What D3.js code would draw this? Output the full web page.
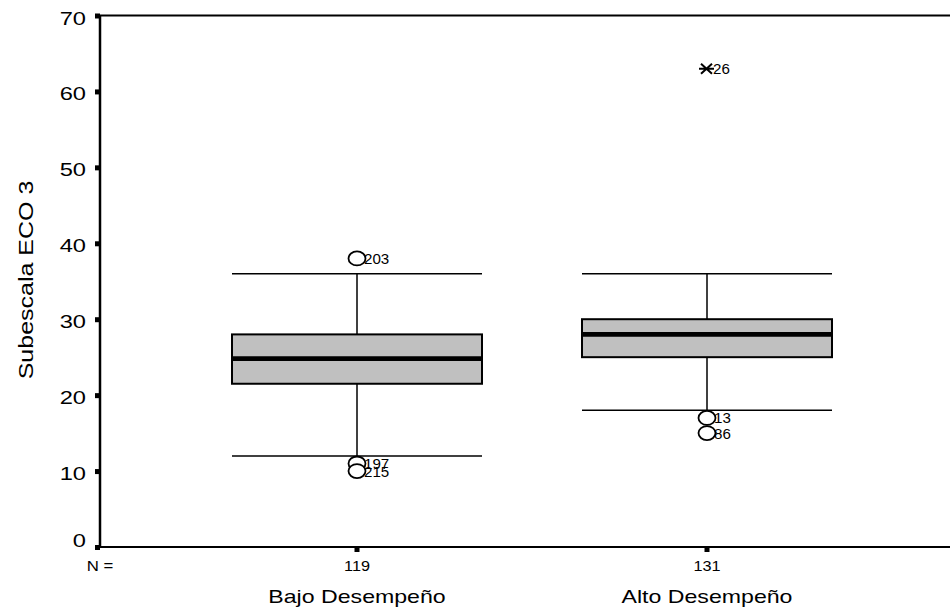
<!DOCTYPE html>
<html>
<head>
<meta charset="utf-8">
<script src="https://cdn.jsdelivr.net/npm/d3@7"></script>
<style>
  body { margin: 0; background: #fff; }
  svg { display: block; font-family: "Liberation Sans", Arial, sans-serif; }
</style>
</head>
<body>
<svg id="chart" width="950" height="610"></svg>
<script>
// Groups and their box-plot summaries
const categories = ["Bajo Desempeño", "Alto Desempeño"];
const counts = [119, 131];
const q1 = [21.5, 25];
const medians = [24.8, 28];
const q3 = [28, 30];
const whiskerLow = [12, 18];
const whiskerHigh = [36, 36];
// Outliers (circles) and extremes (asterisks): [group index, value, case id]
const outliers = [
  [0, 38, "203"], [0, 11, "197"], [0, 10, "215"],
  [1, 17, "13"], [1, 15, "86"]
];
const extremes = [[1, 63, "26"]];
const yTicks = [0, 10, 20, 30, 40, 50, 60, 70];

const svg = d3.select("#chart");
const plotLeft = 100, plotRight = 950, plotTop = 15.5, plotBottom = 547;

const x = d3.scaleBand().domain(categories).range([182, 882]).paddingInner(0);
const y = d3.scaleLinear().domain([0, 70]).range([plotBottom, plotTop]);
const boxW = x.bandwidth() * 250 / 350;
const cx = i => x(categories[i]) + x.bandwidth() / 2;

// Text drawn with a horizontal stretch (wide Arial look)
function label(parent, tx, ty, str, size, anchor, sx, rotate) {
  const tr = `translate(${tx},${ty})` + (rotate ? ` rotate(${rotate})` : "") + ` scale(${sx},1)`;
  return parent.append("text").attr("transform", tr).attr("text-anchor", anchor)
    .attr("font-size", size).attr("fill", "#000").text(str);
}

// Frame lines
svg.append("line").attr("x1", plotLeft).attr("x2", plotRight).attr("y1", plotTop).attr("y2", plotTop)
  .attr("stroke", "#000").attr("stroke-width", 2);
svg.append("line").attr("x1", plotLeft).attr("x2", plotRight).attr("y1", plotBottom).attr("y2", plotBottom)
  .attr("stroke", "#000").attr("stroke-width", 2);

// Y axis (line and square tick marks from the axis generator, labels stretched)
const yAxis = svg.append("g").attr("transform", `translate(${plotLeft},0)`)
  .call(d3.axisLeft(y).tickValues(yTicks).tickSize(0).tickFormat(""));
yAxis.select(".domain").attr("stroke-width", 2.5).attr("d", `M0,${plotTop}V${plotBottom}`);
yAxis.selectAll(".tick").append("rect").attr("x", -5).attr("y", -2.5).attr("width", 5).attr("height", 5).attr("fill", "#000");
yTicks.forEach(t => {
  label(svg, 86, y(t) + (t === 0 ? 0 : 9), d3.format("d")(t), 18.5, "end", 1.28);
});

// X tick marks
categories.forEach((c, i) => {
  svg.append("rect").attr("x", cx(i) - 2.5).attr("y", plotBottom).attr("width", 5).attr("height", 5).attr("fill", "#000");
});

// Boxes
const g = svg.append("g");
categories.forEach((c, i) => {
  const xc = cx(i);
  g.append("line").attr("x1", xc).attr("x2", xc).attr("y1", y(whiskerHigh[i])).attr("y2", y(q3[i]))
    .attr("stroke", "#000").attr("stroke-width", 1.5);
  g.append("line").attr("x1", xc).attr("x2", xc).attr("y1", y(q1[i])).attr("y2", y(whiskerLow[i]))
    .attr("stroke", "#000").attr("stroke-width", 1.5);
  [whiskerHigh[i], whiskerLow[i]].forEach(v => {
    g.append("line").attr("x1", xc - boxW / 2).attr("x2", xc + boxW / 2).attr("y1", y(v)).attr("y2", y(v))
      .attr("stroke", "#000").attr("stroke-width", 1.5);
  });
  g.append("rect").attr("x", xc - boxW / 2).attr("y", y(q3[i])).attr("width", boxW)
    .attr("height", y(q1[i]) - y(q3[i])).attr("fill", "#c0c0c0").attr("stroke", "#000").attr("stroke-width", 2);
  g.append("line").attr("x1", xc - boxW / 2).attr("x2", xc + boxW / 2).attr("y1", y(medians[i])).attr("y2", y(medians[i]))
    .attr("stroke", "#000").attr("stroke-width", 4.7);
});

// Outlier circles with case labels
outliers.forEach(([i, v, id]) => {
  const xc = cx(i);
  g.append("ellipse").attr("cx", xc).attr("cy", y(v)).attr("rx", 8.5).attr("ry", 7)
    .attr("fill", "#fff").attr("stroke", "#000").attr("stroke-width", 1.8);
  label(g, xc + 7, y(v) + 5.5, id, 14, "start", 1.08);
});

// Extreme values as asterisks
extremes.forEach(([i, v, id]) => {
  const xc = cx(i), yc = y(v);
  g.append("path")
    .attr("d", `M${xc - 8},${yc}H${xc + 7}M${xc - 6},${yc - 5}L${xc + 5},${yc + 5}M${xc - 6},${yc + 5}L${xc + 5},${yc - 5}`)
    .attr("stroke", "#000").attr("stroke-width", 2);
  label(g, xc + 6, yc + 5.5, id, 14, "start", 1.08);
});

// Counts and group labels
label(svg, plotLeft, 571, "N =", 15, "middle", 1.12);
categories.forEach((c, i) => {
  label(svg, cx(i), 571, counts[i], 14.5, "middle", 1.12);
  label(svg, cx(i), 603, c, 18.5, "middle", 1.25);
});

// Y axis title
label(svg, 33, 280, "Subescala ECO 3", 20, "middle", 1.25, -90);
</script>
</body>
</html>
